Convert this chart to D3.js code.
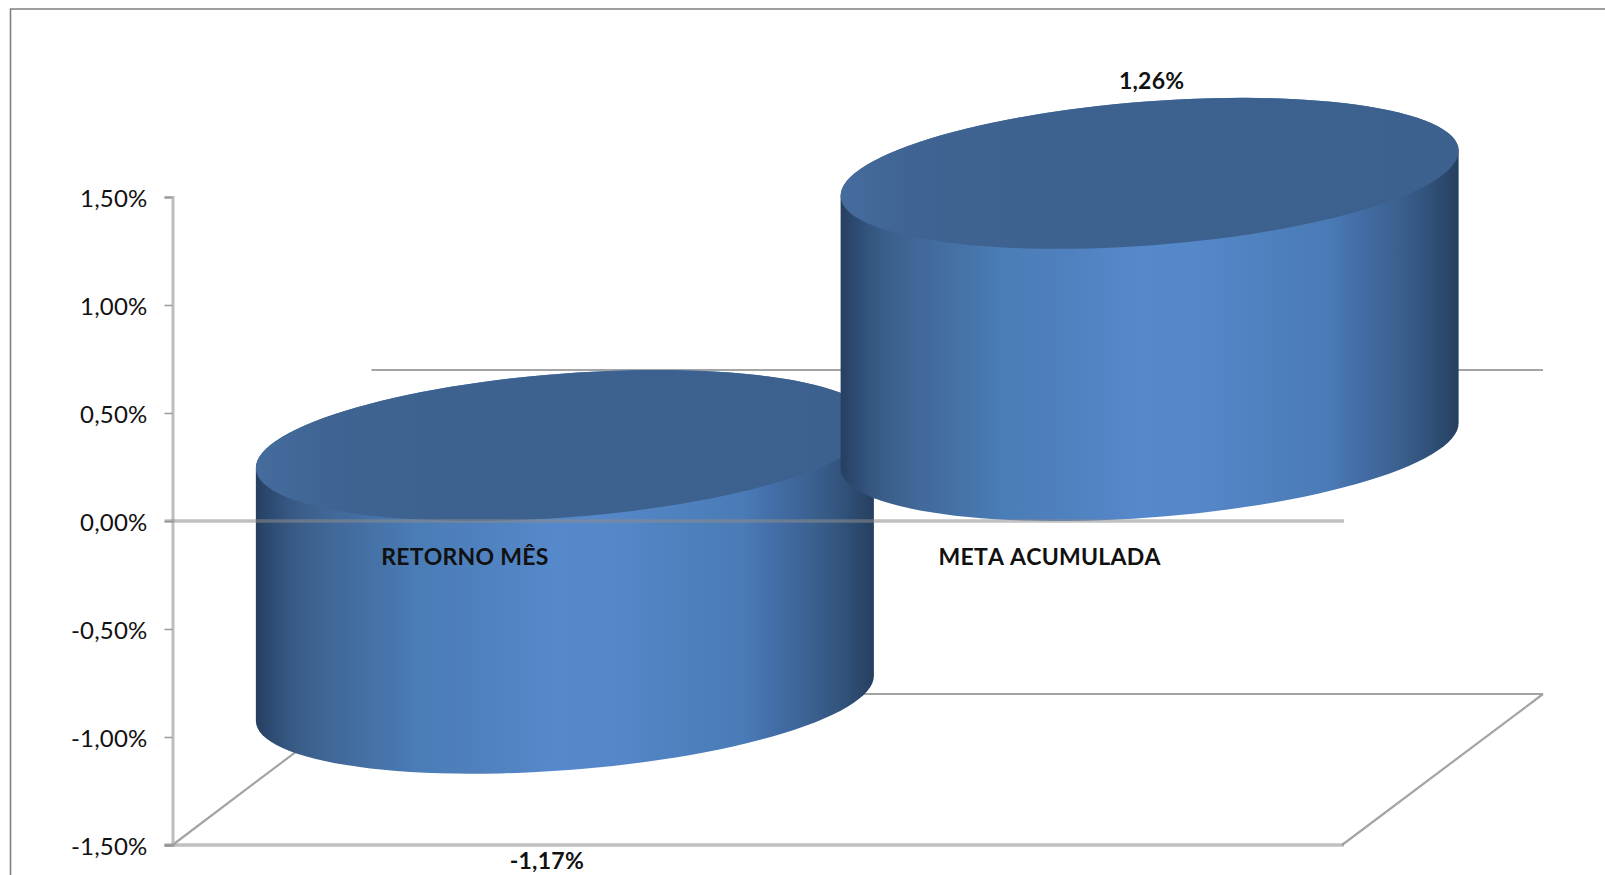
<!DOCTYPE html>
<html>
<head>
<meta charset="utf-8">
<script src="https://cdn.jsdelivr.net/npm/d3@7"></script>
<style>
    html, body { margin: 0; padding: 0; background: #fff; overflow: hidden; }
    text { font-family: Lato, "Open Sans", sans-serif; fill: #111; }
    .axis text { font-size: 24px; letter-spacing: 0.2px; }
    .label { font-size: 23px; font-weight: 700; letter-spacing: 0.25px; font-kerning: none; }
</style>
</head>
<body>
<svg id="chart" width="1605" height="875"></svg>
<script>
const categories = ['RETORNO MÊS', 'META ACUMULADA'];
const values = [-0.0117, 0.0126];
const tickValues = [-0.015, -0.01, -0.005, 0, 0.005, 0.01, 0.015];

const width = 1605, height = 875;
// the floor plane of the 3d box: how far the back edge sits from the front edge
const depthX = 200, depthY = 151;
const plotLeft = 172.5, plotRight = 1342, plotTop = 197, plotBottom = 845;
const gridColor = '#a4a4a4';

const fmt = d3.formatLocale({ decimal: ',', thousands: '.', grouping: [3], currency: ['', ''], percent: '%', minus: '-' }).format('.2%');

const svg = d3.select('#chart');

const yScale = d3.scaleLinear().domain([-0.015, 0.015]).range([plotBottom, plotTop]);
const xScale = d3.scaleBand().domain(categories).range([plotLeft, plotRight]).padding(0);

// cylinder gradient, dark on both edges
const defs = svg.append('defs');
const grad = defs.append('linearGradient').attr('id', 'side');
[[0, '#263f60'], [0.03, '#2f4e76'], [0.07, '#3a5e89'], [0.13, '#41699a'], [0.26, '#4a7cb6'],
 [0.39, '#5182c1'], [0.48, '#5689cb'], [0.6, '#5486c8'], [0.72, '#4d7fbb'], [0.79, '#4a7bb6'],
 [0.84, '#436da6'], [0.9, '#3b6190'], [0.95, '#31527a'], [1, '#263f60']].forEach(s => {
    grad.append('stop').attr('offset', s[0]).attr('stop-color', s[1]);
});
const topGrad = defs.append('linearGradient').attr('id', 'cap');
[[0, '#446c9d'], [0.12, '#3f6493'], [0.3, '#3d628f'], [1, '#3d618e']].forEach(s => {
    topGrad.append('stop').attr('offset', s[0]).attr('stop-color', s[1]);
});

// frame
svg.append('path')
    .attr('d', `M10.5,${height} V9 H${width}`)
    .attr('fill', 'none').attr('stroke', '#808080').attr('stroke-width', 1.6);

// back edges and floor, behind the cylinders
const backLines = [
    [plotLeft + depthX - 1, yScale(0) - depthY, plotRight + depthX + 1, yScale(0) - depthY],
    [plotLeft + depthX, plotBottom - depthY, plotRight + depthX + 1, plotBottom - depthY],
    [plotLeft, plotBottom, plotLeft + depthX, plotBottom - depthY],
    [plotRight, plotBottom, plotRight + depthX + 1, plotBottom - depthY]
];
svg.append('g').selectAll('line').data(backLines).enter().append('line')
    .attr('x1', d => d[0]).attr('y1', d => d[1])
    .attr('x2', d => d[2]).attr('y2', d => d[3])
    .attr('stroke', gridColor).attr('stroke-width', 2.2);

// axis
const yAxis = d3.axisLeft(yScale).tickValues(tickValues).tickFormat(fmt).tickSize(8).tickPadding(17);
const yAxisG = svg.append('g').attr('class', 'axis')
    .attr('transform', `translate(${plotLeft},0)`)
    .call(yAxis);
yAxisG.selectAll('line').attr('stroke', '#9a9a9a').attr('stroke-width', 1.5);
yAxisG.select('.domain').attr('stroke', '#bdbdbd').attr('stroke-width', 3);
yAxisG.selectAll('text').attr('dy', '0.38em');

// point on a floor ellipse around center cx, cy
const ax = 295, bx = 92, by = depthY / 2;
const rimAngle = Math.atan2(bx, ax);
const rim = (cx, cy, t) => [cx + ax * Math.cos(t) + bx * Math.sin(t), cy - by * Math.sin(t)];
const line = d3.line();

const bars = svg.append('g').selectAll('g').data(categories).enter().append('g');

bars.each(function (c, i) {
    const g = d3.select(this);
    const cx = xScale(c) + xScale.bandwidth() / 2 + depthX / 2;
    const yA = yScale(Math.max(0, values[i])) - by;
    const yB = yScale(Math.min(0, values[i])) - by;

    // silhouette: top rim behind, then down one side, bottom rim, up the other side
    const upper = d3.range(0, 61).map(k => rim(cx, yA, rimAngle + Math.PI * k / 60));
    const lower = d3.range(0, 61).map(k => rim(cx, yB, rimAngle + Math.PI + Math.PI * k / 60));
    g.append('path').attr('d', line(upper.concat(lower)) + 'Z').attr('fill', 'url(#side)');

    const cap = d3.range(0, 121).map(k => rim(cx, yA, 2 * Math.PI * k / 120));
    g.append('path').attr('d', line(cap) + 'Z').attr('fill', 'url(#cap)');
});

// the floor line and zero line go over the bars, half see-through
svg.append('g').selectAll('line').data([0, -0.015]).enter().append('line')
    .attr('x1', plotLeft - 8).attr('x2', plotRight + 2)
    .attr('y1', d => yScale(d)).attr('y2', d => yScale(d))
    .attr('stroke', '#8c8c8c').attr('stroke-opacity', 0.55).attr('stroke-width', 3.5);

// category names
svg.append('g').selectAll('text').data(categories).enter().append('text')
    .attr('class', 'label')
    .attr('text-anchor', 'middle')
    .attr('x', d => xScale(d) + xScale.bandwidth() / 2)
    .attr('y', yScale(0) + 44)
    .text(d => d);

// value labels sit outside the cylinder ends
const labelShift = [-18, 2];
svg.append('g').selectAll('text').data(values).enter().append('text')
    .attr('class', 'label')
    .attr('text-anchor', 'middle')
    .attr('x', (d, i) => xScale(categories[i]) + xScale.bandwidth() / 2 + depthX / 2 + labelShift[i])
    .attr('y', d => d < 0 ? yScale(d) + 95 : yScale(d) - 160)
    .text(d => fmt(d));
</script>
</body>
</html>
